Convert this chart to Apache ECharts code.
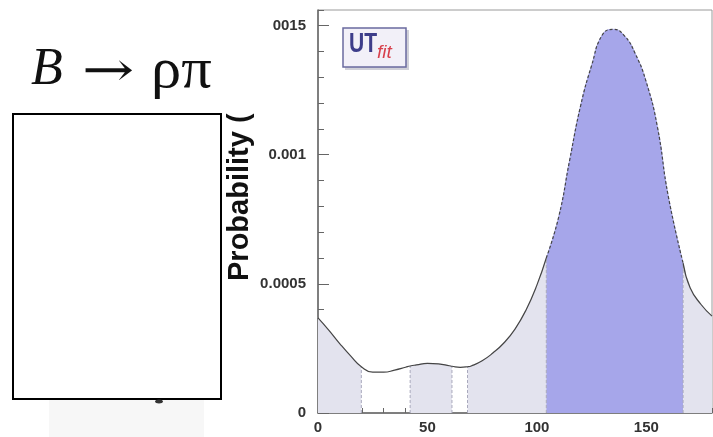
<!DOCTYPE html>
<html>
<head>
<meta charset="utf-8">
<script src="https://cdn.jsdelivr.net/npm/echarts@6/dist/echarts.min.js"></script>
<style>
  html, body { margin: 0; padding: 0; background: #fff; }
  #chart { width: 713px; height: 437px; }
</style>
</head>
<body>
<div id="chart"></div>
<script>
// Posterior density of the angle (degrees)
const angle = [0, 5, 10, 15, 19.8, 25, 30, 35, 40, 42.1, 45, 50, 55, 60, 61.2, 65, 68.3, 70, 75, 80, 85, 90, 95, 100, 104.3,
               110, 115, 120, 125, 130, 135, 140, 145, 150, 155, 160, 166.8, 170, 175, 180];
const prob = [3.68, 3.20, 2.68, 2.20, 1.79, 1.58, 1.58, 1.66, 1.77, 1.82, 1.86, 1.92, 1.90, 1.83, 1.81, 1.77, 1.79, 1.82, 2.02, 2.33, 2.72, 3.25, 3.98, 4.95, 6.00,
              7.60, 9.80, 11.90, 13.45, 14.65, 14.85, 14.60, 13.90, 12.80, 11.10, 8.40, 5.80, 4.85, 4.20, 3.75].map(v => v * 1e-4);

// Probability regions: 68% (inner) and 95% (outer) intervals
const bandStart = [0, 42.1, 68.3, 104.3, 166.8];
const bandEnd   = [19.8, 61.2, 104.3, 166.8, 180];
const bandLevel = ['95', '95', '95', '68', '95'];
const bandEdges = [19.8, 42.1, 61.2, 68.3, 104.3, 166.8];

// Axis ticks
const xMajorTicks = [0, 50, 100, 150];
const yMajorTicks = [0, 0.0005, 0.001, 0.0015];

const points = angle.map((a, i) => [a, prob[i]]);
const probAt = a => prob[angle.indexOf(a)];
const inRange = (lo, hi) => points.filter(p => p[0] >= lo && p[0] <= hi);

const fillColor = { '95': '#e3e3ee', '68': '#a6a6ea' };
const labelFont = { fontFamily: 'Liberation Sans, Arial, sans-serif', fontWeight: 'bold', fontSize: 15, color: '#333' };
const SMOOTH = 0.5;

const series = [];
bandStart.forEach((lo, i) => {
  series.push({
    type: 'line', xAxisIndex: 0, yAxisIndex: 0,
    data: inRange(lo, bandEnd[i]),
    smooth: SMOOTH, symbol: 'none', silent: true,
    lineStyle: { color: fillColor[bandLevel[i]], width: 1 },
    areaStyle: { color: fillColor[bandLevel[i]], opacity: 1 },
    z: 2
  });
});
bandEdges.forEach(a => {
  series.push({
    type: 'line', xAxisIndex: 0, yAxisIndex: 0,
    data: [[a, 0], [a, probAt(a)]],
    symbol: 'none', silent: true,
    lineStyle: { color: '#a9a9bd', width: 1, type: [3, 2] },
    z: 3
  });
});
// curve outline: solid outside the 68% region, dashed over it
[[0, 104.3, 'solid'], [104.3, 166.8, 'dash'], [166.8, 180, 'solid']].forEach(([lo, hi, kind]) => {
  series.push({
    type: 'line', xAxisIndex: 0, yAxisIndex: 0,
    data: inRange(lo, hi),
    smooth: SMOOTH, symbol: 'none', silent: true,
    lineStyle: { color: '#454545', width: 1.2, type: kind === 'dash' ? [3, 2] : 'solid' },
    z: 4
  });
});

const xRange = { min: 0, max: 180 };
const yRange = { min: 0, max: 0.00156 };

const option = {
  animation: false,
  grid: { left: 318, right: 1, top: 10, bottom: 24, show: true, borderColor: '#9a9a9a', borderWidth: 1, backgroundColor: 'transparent' },
  xAxis: [
    {
      type: 'value', ...xRange, interval: 10, position: 'bottom',
      axisLine: { show: true, lineStyle: { color: '#666', width: 1.5 } },
      axisTick: { show: true, inside: true, length: 5, lineStyle: { color: '#666' } },
      axisLabel: { show: false }, splitLine: { show: false }
    },
    {
      type: 'value', ...xRange, interval: 50, position: 'bottom', offset: 0,
      axisLine: { show: false },
      axisTick: { show: true, inside: true, length: 11, lineStyle: { color: '#666' } },
      axisLabel: {
        ...labelFont, margin: 7, showMaxLabel: false,
        formatter: v => (xMajorTicks.includes(v) ? String(v) : '')
      },
      splitLine: { show: false }
    }
  ],
  yAxis: [
    {
      type: 'value', ...yRange, interval: 0.0005, position: 'left',
      axisLine: { show: true, lineStyle: { color: '#666', width: 1.5 } },
      axisTick: { show: true, inside: true, length: 11, lineStyle: { color: '#666' } },
      axisLabel: {
        ...labelFont, margin: 12, showMaxLabel: false,
        formatter: v => {
          const t = yMajorTicks.find(m => Math.abs(m - v) < 1e-9);
          return t === undefined ? '' : (t === 0 ? '0' : String(t));
        }
      },
      splitLine: { show: false }
    },
    {
      type: 'value', ...yRange, interval: 0.0001, position: 'left', offset: 0,
      axisLine: { show: false },
      axisTick: { show: true, inside: true, length: 6, lineStyle: { color: '#666' } },
      axisLabel: { show: false }, splitLine: { show: false }
    }
  ],
  series: series,
  graphic: [
    // heading
    { type: 'text', left: 31, top: 44, z: 100,
      style: { text: 'B', font: 'italic 52px "Liberation Serif", "DejaVu Serif", serif', fill: '#111' } },
    { type: 'text', x: 82, y: 50, scaleX: 1.3, z: 100,
      style: { text: '→', font: '48px "DejaVu Serif", serif', fill: '#111' } },
    { type: 'text', x: 151, y: 44, scaleX: 1.08, z: 100,
      style: { text: 'ρπ', font: '56px "Liberation Serif", "DejaVu Serif", serif', fill: '#111' } },
    // y-axis title
    { type: 'text', x: 240, y: 281, rotation: Math.PI / 2, z: 90,
      style: { text: 'Probability (', font: 'bold 29px "Liberation Sans", Arial, sans-serif', fill: '#111',
               align: 'left', verticalAlign: 'middle' } },
    // white cover over the upper-left part of the axis area
    { type: 'rect', z: 95, shape: { x: 219, y: 0, width: 54, height: 113 }, style: { fill: '#fff' } },
    // framed white box on the left
    { type: 'rect', z: 96, shape: { x: 13, y: 114, width: 208, height: 285 },
      style: { fill: '#fff', stroke: '#000', lineWidth: 2 } },
    { type: 'rect', z: 94, shape: { x: 49, y: 400, width: 155, height: 37 }, style: { fill: '#f7f7f7' } },
    { type: 'ellipse', z: 97, shape: { cx: 159, cy: 401.5, rx: 4, ry: 2 }, style: { fill: '#333' } },
    // UTfit logo
    { type: 'rect', z: 100, shape: { x: 345, y: 30, width: 64, height: 40 }, style: { fill: '#d0d0d8' } },
    { type: 'rect', z: 101, shape: { x: 343, y: 28, width: 63, height: 39 },
      style: { fill: '#f2f0f8', stroke: '#6a6a9e', lineWidth: 1.5 } },
    { type: 'text', x: 349, y: 31, scaleX: 0.78, z: 102,
      style: { text: 'UT', font: 'bold 27px "Liberation Sans", Arial, sans-serif', fill: '#3d3d8a' } },
    { type: 'text', x: 377, y: 43, z: 102,
      style: { text: 'fit', font: 'italic 19px "Liberation Sans", Arial, sans-serif', fill: '#d8404c' } }
  ]
};

echarts.init(document.getElementById('chart'), null, { renderer: 'canvas' }).setOption(option);
</script>
</body>
</html>
